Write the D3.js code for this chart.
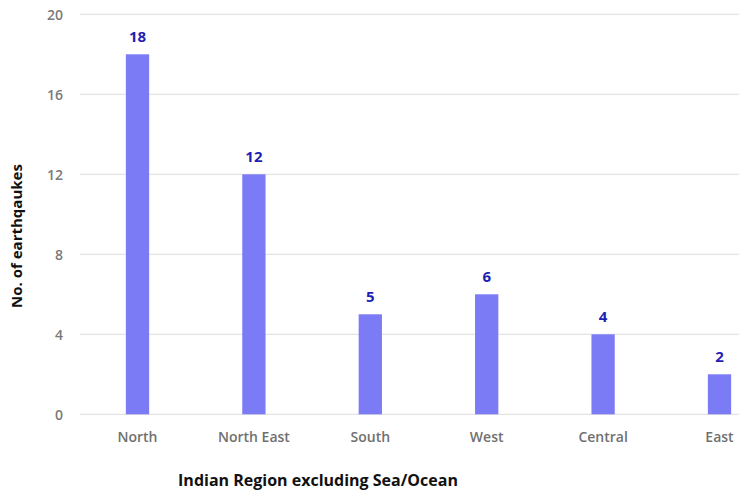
<!DOCTYPE html>
<html>
<head>
<meta charset="utf-8">
<script src="https://cdn.jsdelivr.net/npm/d3@7"></script>
<style>
  html, body { margin: 0; padding: 0; background: #fff; }
  svg { display: block; }
</style>
</head>
<body>
<svg id="chart" width="739" height="491"></svg>
<script>
const categories = ["North", "North East", "South", "West", "Central", "East"];
const values = [18, 12, 5, 6, 4, 2];
const yTicks = [0, 4, 8, 12, 16, 20];

const svg = d3.select("#chart");
const x = d3.scaleBand().domain(categories).range([79.3, 777.7]).paddingInner(0.8).paddingOuter(0.4);
const y = d3.scaleLinear().domain([0, 20]).range([414.3, 14.3]);

// gridlines
svg.append("g").selectAll("line").data(yTicks).join("line")
  .attr("x1", 80).attr("x2", 739)
  .attr("y1", d => y(d)).attr("y2", d => y(d))
  .attr("stroke", "#dcdcdc").attr("stroke-width", 1);

// y axis labels
const yAxis = d3.axisLeft(y).tickValues(yTicks).tickSize(0).tickPadding(0);
const ya = svg.append("g").attr("transform", "translate(63,0)").call(yAxis);
ya.select(".domain").remove();
ya.selectAll("text").attr("fill", "#7a7a7a").attr("font-family", "Open Sans, sans-serif")
  .attr("font-size", 14).attr("font-weight", 600).attr("dy", "0.35em");

// bars
svg.append("g").selectAll("rect").data(values).join("rect")
  .attr("x", (d, i) => x(categories[i]))
  .attr("width", x.bandwidth())
  .attr("y", d => y(d))
  .attr("height", d => y(0) - y(d))
  .attr("fill", "#7b7bf5");

// value labels
svg.append("g").selectAll("text").data(values).join("text")
  .attr("x", (d, i) => x(categories[i]) + x.bandwidth() / 2)
  .attr("y", d => y(d) - 12)
  .attr("text-anchor", "middle")
  .attr("font-family", "Open Sans, sans-serif")
  .attr("font-weight", "bold")
  .attr("font-size", 15)
  .attr("fill", "#1f1fb4")
  .text(d => d);

// x axis labels
const xAxis = d3.axisBottom(x).tickSize(0).tickPadding(0);
const xa = svg.append("g").attr("transform", "translate(0,437.5)").call(xAxis);
xa.select(".domain").remove();
xa.selectAll("text").attr("fill", "#707070").attr("font-family", "Open Sans, sans-serif")
  .attr("font-size", 14).attr("font-weight", 600).attr("dy", "0.35em");

// axis titles
svg.append("text")
  .attr("x", 318).attr("y", 480).attr("dy", "0.35em")
  .attr("text-anchor", "middle")
  .attr("font-family", "Open Sans, sans-serif").attr("font-weight", "bold").attr("font-size", 16)
  .attr("fill", "#111")
  .text("Indian Region excluding Sea/Ocean");

svg.append("text")
  .attr("transform", "translate(17,236) rotate(-90)")
  .attr("dy", "0.35em")
  .attr("text-anchor", "middle")
  .attr("font-family", "Open Sans, sans-serif").attr("font-weight", "bold").attr("font-size", 15)
  .attr("fill", "#111")
  .text("No. of earthqaukes");
</script>
</body>
</html>
